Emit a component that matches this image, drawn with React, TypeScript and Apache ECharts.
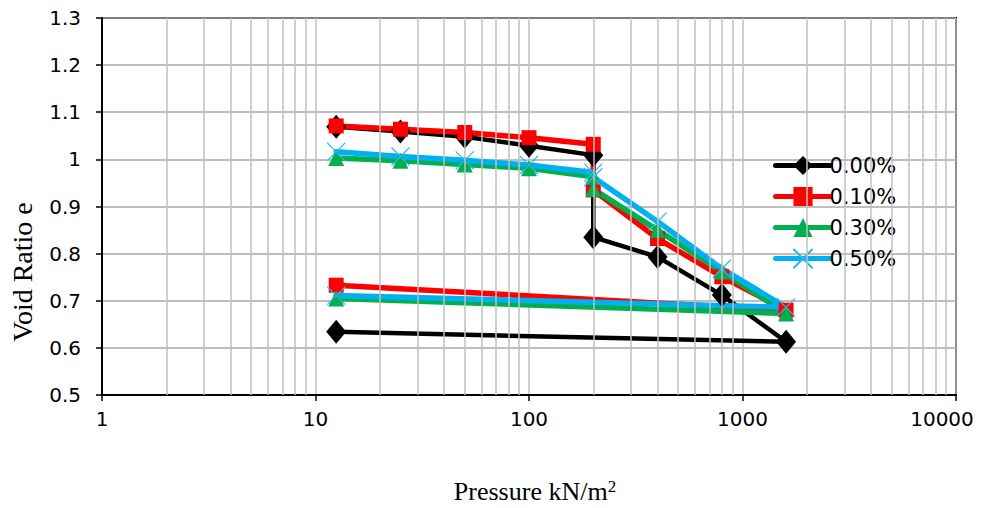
import React, { useEffect, useRef } from "react";
import * as echarts from "echarts";

const pressures = [12.5, 25, 50, 100, 200, 200, 400, 800, 1600, 12.5];
const seriesNames = ["0.00%", "0.10%", "0.30%", "0.50%"];
const e000 = [1.069, 1.059, 1.048, 1.029, 1.009, 0.835, 0.793, 0.712, 0.613, 0.634];
const e010 = [1.071, 1.064, 1.057, 1.046, 1.032, 0.935, 0.832, 0.751, 0.68, 0.733];
const e030 = [1.003, 0.997, 0.989, 0.981, 0.963, 0.937, 0.85, 0.762, 0.673, 0.705];
const e050 = [1.016, 1.006, 0.998, 0.988, 0.972, 0.962, 0.868, 0.768, 0.686, 0.711];
const minorGridValues = [
  2, 3, 4, 5, 6, 7, 8, 9,
  20, 30, 40, 50, 60, 70, 80, 90,
  200, 300, 400, 500, 600, 700, 800, 900,
  2000, 3000, 4000, 5000, 6000, 7000, 8000, 9000,
];

const TICK_FONT = "'DejaVu Sans', sans-serif";
const TITLE_FONT = "'Liberation Serif', 'Times New Roman', serif";

export default function App() {
  const ref = useRef<HTMLDivElement>(null);
  useEffect(() => {
    if (!ref.current) return;
    const chart = echarts.init(ref.current, undefined, { renderer: "svg" });
    const pair = (ys: number[]) => pressures.map((p, i) => [p, ys[i]]);
    const styles = [
      { color: "#000000", symbol: "diamond", size: [20, 24], width: 4.5 },
      { color: "#ff0000", symbol: "rect", size: 15, width: 5.5 },
      { color: "#00b050", symbol: "triangle", size: 16, width: 5.5 },
      { color: "#00b0f0", symbol: "path://M0,0L10,10M10,0L0,10", size: 18, width: 5.5 },
    ];
    const values = [e000, e010, e030, e050];
    const dataSeries = seriesNames.map((name, k) => {
      const s = styles[k];
      const isCross = k === 3;
      return {
        name,
        type: "line",
        z: 3,
        data: pair(values[k]),
        symbol: s.symbol,
        symbolSize: s.size,
        showAllSymbol: true,
        lineStyle: { color: s.color, width: s.width, cap: "round", join: "round" },
        itemStyle: isCross
          ? { color: "#29b6ee", borderColor: "#29b6ee", borderWidth: 1.2 }
          : { color: s.color, borderWidth: 0 },
        emphasis: { disabled: true },
      };
    });
    chart.setOption({
      animation: false,
      grid: {
        left: 102,
        top: 18,
        right: 39,
        bottom: 113,
        show: true,
        borderColor: "#000",
        borderWidth: 2,
        backgroundColor: "transparent",
      },
      legend: {
        data: seriesNames,
        orient: "vertical",
        left: 768,
        top: 150,
        itemWidth: 55,
        itemHeight: 24,
        itemGap: 10,
        lineStyle: { width: 5, cap: "round" },
        textStyle: { fontFamily: TICK_FONT, fontSize: 21, color: "#000", lineHeight: 21, padding: [0, 0, 0, -6] },
        selectedMode: false,
      },
      xAxis: {
        type: "log",
        logBase: 10,
        min: 1,
        max: 10000,
        axisLine: { show: true, lineStyle: { color: "#000", width: 2 } },
        axisTick: { show: true, inside: false, length: 6, lineStyle: { color: "#000", width: 1.5 } },
        axisLabel: {
          margin: 14,
          fontFamily: TICK_FONT,
          fontSize: 20,
          color: "#000",
          formatter: (v: number) => {
            const s = String(Math.round(v));
            return Math.round(v) === 10000 ? `{last|${s}}` : s;
          },
          rich: {
            last: { fontFamily: TICK_FONT, fontSize: 20, color: "#000", padding: [0, 28, 0, 0] },
          },
        },
        splitLine: { show: true, lineStyle: { color: "#c0c0c0", width: 1.5 } },
      },
      yAxis: {
        type: "value",
        min: 0.5,
        max: 1.3,
        interval: 0.1,
        axisLine: { show: true, lineStyle: { color: "#000", width: 2 } },
        axisTick: { show: true, inside: false, length: 6, lineStyle: { color: "#000", width: 1.5 } },
        axisLabel: {
          margin: 21,
          fontFamily: TICK_FONT,
          fontSize: 20,
          color: "#000",
          formatter: (v: number) => String(Math.round(v * 10) / 10),
        },
        splitLine: { show: true, lineStyle: { color: "#a8a8a8", width: 1.5 } },
      },
      series: [
        {
          name: "minor-grid",
          type: "line",
          data: [],
          z: 1,
          silent: true,
          markLine: {
            silent: true,
            symbol: ["none", "none"],
            label: { show: false },
            lineStyle: { color: "#c0c0c0", width: 1.5, type: "solid" },
            emphasis: { disabled: true },
            data: minorGridValues.map((v) => ({ xAxis: v })),
          },
        },
        ...dataSeries,
      ],
      graphic: [
        {
          type: "text",
          x: 22,
          y: 272,
          rotation: Math.PI / 2,
          style: {
            text: "Void Ratio e",
            font: `28px ${TITLE_FONT}`,
            fill: "#000",
            align: "center",
            verticalAlign: "middle",
          },
        },
        {
          type: "text",
          x: 535,
          y: 491,
          style: {
            text: "{a|Pressure kN/m}{b|2}",
            fill: "#000",
            align: "center",
            verticalAlign: "middle",
            rich: {
              a: { fontFamily: TITLE_FONT, fontSize: 26, fill: "#000", verticalAlign: "bottom" },
              b: { fontFamily: TITLE_FONT, fontSize: 17, fill: "#000", verticalAlign: "top", padding: [0, 0, 10, 0] },
            },
          },
        },
      ],
    });
    return () => chart.dispose();
  }, []);
  return <div ref={ref} style={{ width: 995, height: 508, margin: -8 }} />;
}
